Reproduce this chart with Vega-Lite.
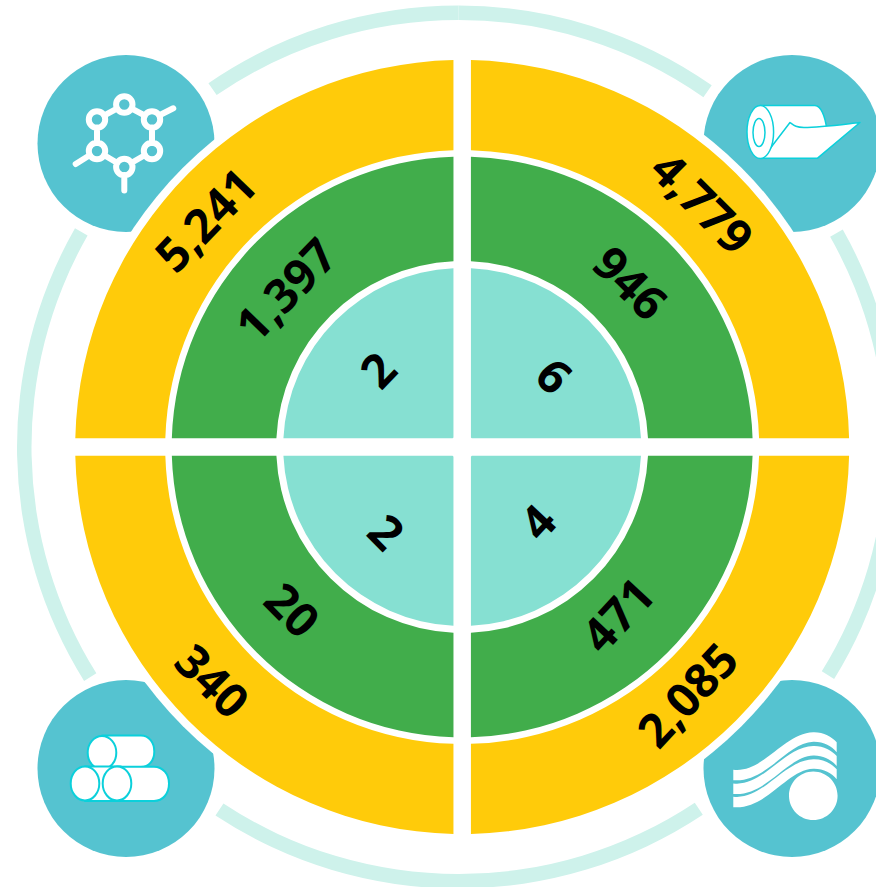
{
"$schema":"https://vega.github.io/schema/vega-lite/v6.json",
"width":924.4,"height":894,"padding":0,"autosize":{"type":"none"},"background":"#ffffff",
"config":{"view":{"stroke":null}},
"datasets":{
"segments":[
{"seg":"top-a","start":0,"end":35},{"seg":"top-b","start":325.5,"end":360},
{"seg":"right","start":60.5,"end":121.7},
{"seg":"bottom","start":146.4,"end":213.4},
{"seg":"left","start":238,"end":299.7}],
"badges":[{"side":"left","row":"top"},{"side":"right","row":"top"},{"side":"left","row":"bottom"},{"side":"right","row":"bottom"}],
"icons":[
{"icon":"molecule","part":"mol","side":"left","row":"top"},
{"icon":"roll","part":"rollBody","side":"right","row":"top"},
{"icon":"roll","part":"rollSheet","side":"right","row":"top"},
{"icon":"roll","part":"rollEnd","side":"right","row":"top"},
{"icon":"bars","part":"barTopBody","side":"left","row":"bottom"},
{"icon":"bars","part":"barTopEnd","side":"left","row":"bottom"},
{"icon":"bars","part":"barLeftBody","side":"left","row":"bottom"},
{"icon":"bars","part":"barLeftEnd","side":"left","row":"bottom"},
{"icon":"bars","part":"barRightBody","side":"left","row":"bottom"},
{"icon":"bars","part":"barRightEnd","side":"left","row":"bottom"},
{"icon":"coil","part":"coil","side":"right","row":"bottom"}],
"halo":[{"ring":"halo","share":100}],
"values":[
{"ring":"outer","q":1,"quadrant":"NE","slot":1,"value":4779,"share":25},
{"ring":"outer","q":2,"quadrant":"SE","slot":2,"value":2085,"share":25},
{"ring":"outer","q":3,"quadrant":"SW","slot":3,"value":340,"share":25},
{"ring":"outer","q":4,"quadrant":"NW","slot":4,"value":5241,"share":25},
{"ring":"middle","q":1,"quadrant":"NE","slot":5,"value":946,"share":25},
{"ring":"middle","q":2,"quadrant":"SE","slot":6,"value":471,"share":25},
{"ring":"middle","q":3,"quadrant":"SW","slot":7,"value":20,"share":25},
{"ring":"middle","q":4,"quadrant":"NW","slot":8,"value":1397,"share":25},
{"ring":"inner","q":1,"quadrant":"NE","slot":9,"value":6,"share":25},
{"ring":"inner","q":2,"quadrant":"SE","slot":10,"value":4,"share":25},
{"ring":"inner","q":3,"quadrant":"SW","slot":11,"value":2,"share":25},
{"ring":"inner","q":4,"quadrant":"NW","slot":12,"value":2,"share":25}]
},
"layer":[
{"data":{"name":"segments"},
 "mark":{"type":"arc","innerRadius":427,"outerRadius":441.5,"fill":"#CEF2EB","xOffset":-3.7},
 "encoding":{"theta":{"field":"start","type":"quantitative","scale":{"domain":[0,360],"range":[0,6.28318530718]}},"theta2":{"field":"end"}}},
{"data":{"name":"badges"},
 "mark":{"type":"point","shape":"circle","filled":true,"size":31329,"fill":"#55C3D0","opacity":1,"strokeWidth":0},
 "encoding":{
  "x":{"field":"side","type":"nominal","axis":null,"scale":{"type":"point","domain":["left","right"],"range":[126,792],"padding":0}},
  "y":{"field":"row","type":"nominal","axis":null,"scale":{"type":"point","domain":["top","bottom"],"range":[143.5,768.5],"padding":0}}}},
{"data":{"name":"icons"},
 "mark":{"type":"point","size":4,"opacity":1,"strokeCap":"round","strokeJoin":"round"},
 "encoding":{
  "x":{"field":"side","type":"nominal","axis":null,"scale":{"type":"point","domain":["left","right"],"range":[126,792],"padding":0}},
  "y":{"field":"row","type":"nominal","axis":null,"scale":{"type":"point","domain":["top","bottom"],"range":[143.5,768.5],"padding":0}},
  "fill":{"field":"icon","type":"nominal","legend":null,"scale":{"domain":["molecule","roll","bars","coil"],"range":["transparent","#ffffff","#ffffff","#ffffff"]}},
  "stroke":{"field":"icon","type":"nominal","legend":null,"scale":{"domain":["molecule","roll","bars","coil"],"range":["#ffffff","#0BD0DB","#0BD0DB","transparent"]}},
  "strokeWidth":{"field":"icon","type":"nominal","legend":null,"scale":{"type":"ordinal","domain":["molecule","roll","bars","coil"],"range":[6,1.5,2,0]}},
  "shape":{"field":"part","type":"nominal","legend":null,"scale":{
   "domain":["mol","rollBody","rollSheet","rollEnd","barTopBody","barTopEnd","barLeftBody","barLeftEnd","barRightBody","barRightEnd","coil"],
   "range":[
   "M6.5 -39a8.2 8.2 0 1 0 -16.4 0a8.2 8.2 0 1 0 16.4 0ZM34.2 -24a8.2 8.2 0 1 0 -16.4 0a8.2 8.2 0 1 0 16.4 0ZM34.2 7.5a8.2 8.2 0 1 0 -16.4 0a8.2 8.2 0 1 0 16.4 0ZM6.5 23.5a8.2 8.2 0 1 0 -16.4 0a8.2 8.2 0 1 0 16.4 0ZM-20.8 7.5a8.2 8.2 0 1 0 -16.4 0a8.2 8.2 0 1 0 16.4 0ZM-20.8 -24a8.2 8.2 0 1 0 -16.4 0a8.2 8.2 0 1 0 16.4 0ZM5.3 -35.2L19 -27.8M26 -16L26 -0.5M19.1 11.5L5.2 19.5M-8.6 19.5L-22.1 11.5M-29 -0.5L-29 -16M-22 -27.9L-8.7 -35.1M33 -28L47.3 -35.2M-36 11.5L-50.3 20.5M-1.7 31.5L-1.7 47",
   "M-31.7 -38L23 -38C29 -38 33 -27 34.7 -15L10 0L-29.3 14.8Z",
   "M-29.3 14.8L-2 -21C2 -18 4 -16 12 -16C28 -16 50 -19 68 -21L25.3 14.8Z",
   "M-18.4 -11.5a13.3 26.5 0 1 0 -26.6 0a13.3 26.5 0 1 0 26.6 0ZM-27 -11a6 14 0 1 0 -12 0a6 14 0 1 0 12 0Z",
   "M-24 -33L15 -33C23 -33 28.3 -26 28.3 -17C28.3 -8 23 -1.5 15 -1.5L-24 -1.5Z",
   "M-9.7 -15.8a14.3 16.7 0 1 0 -28.6 0a14.3 16.7 0 1 0 28.6 0Z",
   "M-41 -2L-5 -2L-5 32.5L-41 32.5Z",
   "M-26.7 15a14.3 17 0 1 0 -28.6 0a14.3 17 0 1 0 28.6 0Z",
   "M-9 -1.8L28 -1.8C37 -1.8 43 6 43 15C43 25 37 32.5 28 32.5L-9 32.5Z",
   "M5.3 15a14.3 17 0 1 0 -28.6 0a14.3 17 0 1 0 28.6 0Z",
   "M-58.7 1.2C-28.7 4.8 -8.7 -35.2 21.3 -36.2C31.3 -36.5 39.7 -31.8 44.7 -26.2L44.7 -16.3C39.7 -22.3 31.3 -27 21.3 -26.7C-5.3 -25.7 -25.3 14.3 -58.7 11.7ZM-58.7 14.9C-28.7 18.5 -8.7 -21.5 21.3 -22.5C31.3 -22.8 39.7 -18.1 44.7 -12.5L44.7 -2.6C39.7 -8.6 31.3 -13.3 21.3 -13C-5.3 -12 -25.3 28 -58.7 25.4ZM-58.7 28.2C-28.7 31.8 -8.7 -8.2 21.3 -9.2C31.3 -9.5 39.7 -4.8 44.7 0.8L44.7 10.7C39.7 4.7 31.3 0 21.3 0.3C-5.3 1.3 -25.3 41.3 -58.7 38.7ZM45.6 27.2a24.3 24.3 0 1 0 -48.6 0a24.3 24.3 0 1 0 48.6 0Z"
   ]}}}},
{"data":{"name":"halo"},
 "mark":{"type":"arc","innerRadius":0,"outerRadius":395,"fill":"#ffffff"},
 "encoding":{"theta":{"field":"share","type":"quantitative","stack":true,"scale":{"domain":[0,100],"range":[0,6.28318530718]}}}},
{"data":{"name":"values"},"transform":[{"filter":"datum.ring==='outer'"}],
 "mark":{"type":"arc","innerRadius":297,"outerRadius":387,"padAngle":0.03587,"fill":"#FFCB0A"},
 "encoding":{"theta":{"field":"share","type":"quantitative","stack":true,"scale":{"domain":[0,100],"range":[0,6.28318530718]}},"order":{"field":"q","type":"ordinal"}}},
{"data":{"name":"values"},"transform":[{"filter":"datum.ring==='middle'"}],
 "mark":{"type":"arc","innerRadius":186,"outerRadius":290.5,"padAngle":0.0506,"fill":"#41AD4B"},
 "encoding":{"theta":{"field":"share","type":"quantitative","stack":true,"scale":{"domain":[0,100],"range":[0,6.28318530718]}},"order":{"field":"q","type":"ordinal"}}},
{"data":{"name":"values"},"transform":[{"filter":"datum.ring==='inner'"}],
 "mark":{"type":"arc","innerRadius":13,"outerRadius":179,"padAngle":0.0975,"fill":"#86E0D2"},
 "encoding":{"theta":{"field":"share","type":"quantitative","stack":true,"scale":{"domain":[0,100],"range":[0,6.28318530718]}},"order":{"field":"q","type":"ordinal"}}},
{"data":{"name":"values"},
 "mark":{"type":"text","font":"Open Sans","fontWeight":"bold","fontSize":47,"align":"center","baseline":"middle","fill":"#000000"},
 "encoding":{
  "text":{"field":"value","type":"quantitative","format":","},
  "theta":{"field":"slot","type":"quantitative","stack":null,"scale":{"type":"linear","zero":false,"domain":[1,2,3,4,5,6,7,8,9,10,11,12],"range":[0.777,2.403,3.96,5.437,0.798,2.393,3.948,5.44,0.916,2.351,3.873,5.452]}},
  "radius":{"field":"slot","type":"quantitative","scale":{"type":"linear","zero":false,"domain":[1,2,3,4,5,6,7,8,9,10,11,12],"range":[339.3,338,345.4,339.5,231.8,232,238.5,233,113,109.5,117,111]}},
  "angle":{"field":"quadrant","type":"nominal","legend":null,"scale":{"type":"ordinal","domain":["NE","SE","SW","NW"],"range":[45,-47,45,-46]}}}}
],
"resolve":{"scale":{"theta":"independent","radius":"independent"}}
}
